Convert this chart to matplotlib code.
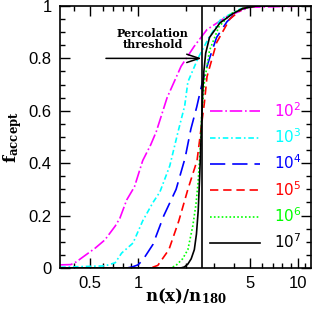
import matplotlib
matplotlib.use("Agg")
import matplotlib.pyplot as plt
import numpy as np

plt.rcParams['mathtext.fontset'] = 'custom'
plt.rcParams['mathtext.rm'] = 'Liberation Sans'
plt.rcParams['mathtext.bf'] = 'DejaVu Serif:bold'
plt.rcParams['lines.scale_dashes'] = False

# ---- data ----
x_1e2 = [0.326, 0.38, 0.41, 0.54, 0.62, 0.72, 0.77, 0.85, 0.95, 1.07, 1.2, 1.3, 1.52, 1.86, 2.24, 2.7, 3.6, 5.0, 12.0]
f_1e2 = [0.012, 0.013, 0.023, 0.076, 0.107, 0.16, 0.19, 0.26, 0.31, 0.41, 0.47, 0.52, 0.65, 0.77, 0.845, 0.91, 0.96, 0.995, 1.0]

x_1e3 = [0.326, 0.62, 0.72, 0.79, 0.93, 1.07, 1.24, 1.37, 1.58, 1.78, 1.96, 2.05, 2.37, 2.78, 3.3, 4.4, 5.5, 12.0]
f_1e3 = [0.003, 0.008, 0.02, 0.057, 0.095, 0.18, 0.25, 0.29, 0.39, 0.52, 0.62, 0.71, 0.8, 0.88, 0.95, 0.99, 1.0, 1.0]

x_1e4 = [0.326, 0.85, 0.92, 1.0, 1.07, 1.24, 1.45, 1.73, 1.97, 2.14, 2.33, 2.55, 2.8, 3.1, 3.6, 4.2, 5.0, 12.0]
f_1e4 = [0.0, 0.0, 0.004, 0.012, 0.03, 0.09, 0.2, 0.3, 0.42, 0.53, 0.615, 0.72, 0.8, 0.88, 0.94, 0.98, 1.0, 1.0]

x_1e5 = [0.326, 1.2, 1.33, 1.56, 1.8, 2.05, 2.34, 2.5, 2.6, 2.7, 3.1, 3.75, 4.5, 5.5, 12.0]
f_1e5 = [0.0, 0.0, 0.01, 0.07, 0.18, 0.3, 0.41, 0.55, 0.63, 0.73, 0.86, 0.95, 0.99, 1.0, 1.0]

x_1e6 = [0.326, 1.6, 1.73, 1.9, 2.05, 2.2, 2.3, 2.37, 2.45, 2.5, 2.6, 2.8, 3.2, 3.8, 4.5, 5.5, 12.0]
f_1e6 = [0.0, 0.0, 0.01, 0.035, 0.07, 0.16, 0.24, 0.32, 0.45, 0.58, 0.71, 0.83, 0.92, 0.97, 0.99, 1.0, 1.0]

x_1e7 = [0.326, 1.85, 1.95, 2.05, 2.15, 2.25, 2.32, 2.38, 2.43, 2.48, 2.53, 2.58, 2.65, 2.8, 3.25, 3.9, 4.5, 5.5, 12.0]
f_1e7 = [0.0, 0.0, 0.004, 0.015, 0.035, 0.07, 0.13, 0.22, 0.35, 0.5, 0.65, 0.75, 0.82, 0.88, 0.935, 0.97, 0.99, 1.0, 1.0]

labels = [r'$\mathregular{10^{2}}$', r'$\mathregular{10^{3}}$', r'$\mathregular{10^{4}}$',
          r'$\mathregular{10^{5}}$', r'$\mathregular{10^{6}}$', r'$\mathregular{10^{7}}$']
colors = ['#FF00FF', '#00FFFF', '#0000FF', '#FF0000', '#00FF00', '#000000']
styles = [(0, (9, 2, 1.2, 2)), (0, (4, 2, 1.2, 2)), (0, (11, 5)), (0, (6, 3.5)), (0, (1.2, 1.6)), '-']

threshold = 2.5
arrow_start = 0.63
arrow_level = 0.8

x_major = [0.5, 1, 5, 10]
x_major_labels = ['0.5', '1', '5', '10']
x_minor = [0.4, 0.6, 0.7, 0.8, 0.9, 2, 3, 4, 6, 7, 8, 9, 11]
y_major = [0, 0.2, 0.4, 0.6, 0.8, 1.0]
y_major_labels = ['0', '0.2', '0.4', '0.6', '0.8', '1']

# ---- plot ----
fig = plt.figure(figsize=(3.14, 3.14), dpi=100)
ax = fig.add_axes([0.191, 0.1465, 0.799, 0.8345])

xs = [x_1e2, x_1e3, x_1e4, x_1e5, x_1e6, x_1e7]
fs = [f_1e2, f_1e3, f_1e4, f_1e5, f_1e6, f_1e7]
for x, f, c, s, l in zip(xs, fs, colors, styles, labels):
    ax.plot(x, f, color=c, linestyle=s, lw=1.2, label=l)

ax.axvline(threshold, color='black', lw=1.2)
ax.annotate('', xy=(threshold, arrow_level), xytext=(arrow_start, arrow_level),
            arrowprops=dict(arrowstyle='->,head_length=0.9,head_width=0.3', lw=1.1, color='black',
                            shrinkA=0, shrinkB=0))
ax.text(1.24, 0.875, 'Percolation\nthreshold', ha='center', va='center',
        fontfamily='DejaVu Serif', fontweight='bold', fontsize=8, linespacing=1.0)

ax.set_xscale('log')
ax.set_xlim(0.325, 12.05)
ax.set_ylim(0, 1)
ax.set_xticks(x_major)
ax.set_xticklabels(x_major_labels)
ax.set_xticks(x_minor, minor=True)
ax.set_xticklabels([], minor=True)
ax.set_yticks(y_major)
ax.set_yticklabels(y_major_labels)
ax.set_yticks(np.arange(0, 1.0001, 0.05), minor=True)

for lab in ax.get_xticklabels() + ax.get_yticklabels():
    lab.set_fontfamily('Liberation Sans')
    lab.set_fontsize(12)

ax.tick_params(which='both', direction='in', top=True, right=True, width=1.0)
ax.tick_params(which='major', length=7)
ax.tick_params(which='minor', length=3.6)
ax.tick_params(axis='x', pad=6)
ax.tick_params(axis='y', pad=6)
for sp in ax.spines.values():
    sp.set_linewidth(1.2)

ax.set_xlabel(r'$\mathbf{n(x)/n_{180}}$', fontsize=12)
ax.set_ylabel(r'$\mathbf{f_{accept}}$', fontsize=12)
ax.xaxis.set_label_coords(0.5, -0.07)
ax.yaxis.set_label_coords(-0.145, 0.5)

leg = ax.legend(loc='center right', bbox_to_anchor=(1.0, 0.35), frameon=False,
                fontsize=11, handlelength=3.3, handletextpad=0.9, labelspacing=0.5,
                labelcolor='linecolor', borderaxespad=0.2)

fig.savefig('out.png', dpi=100)
